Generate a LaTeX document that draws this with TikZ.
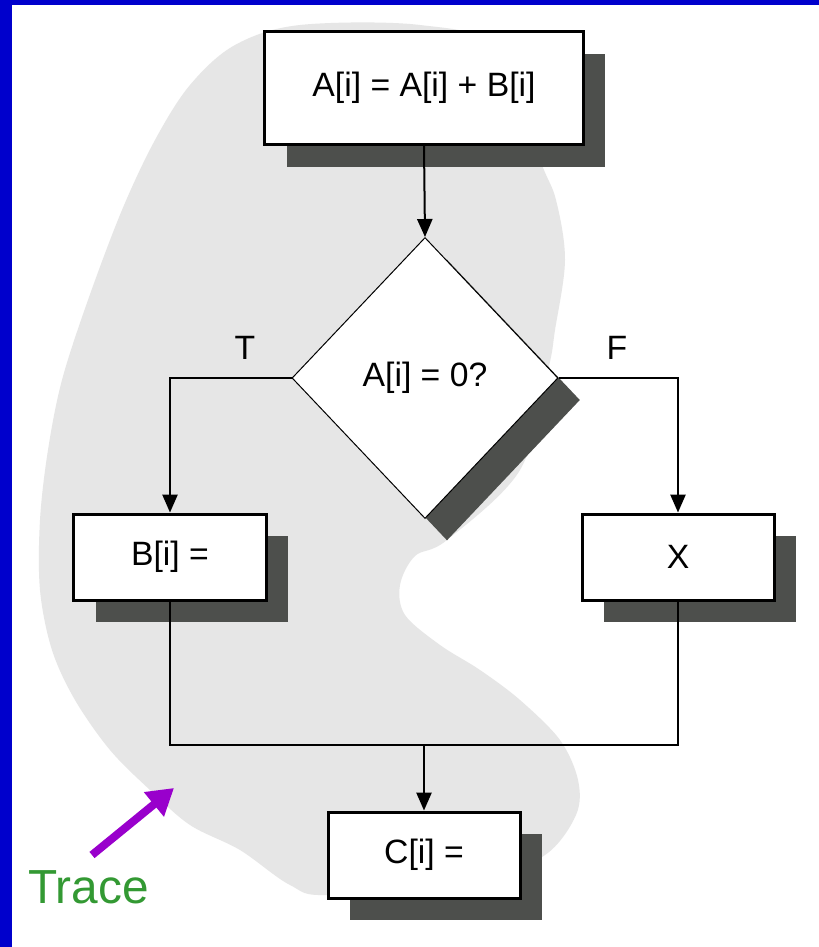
\documentclass[tikz,border=0pt]{standalone}
\usepackage{fontspec}
\setmainfont{Liberation Sans}
\usepackage{tikz}
\usetikzlibrary{positioning,arrows.meta,shapes.geometric,shadows}
\definecolor{traceblue}{HTML}{0000CC}
\definecolor{traceblob}{HTML}{E6E6E6}
\definecolor{traceshade}{HTML}{4D4F4C}
\definecolor{tracegreen}{HTML}{339933}
\definecolor{tracepurple}{HTML}{9900CC}

\begin{document}
\begin{tikzpicture}[x=0.25mm,y=-0.25mm,
  shade/.style={drop shadow={shadow xshift=5.5mm,shadow yshift=-5.5mm,fill=traceshade,opacity=1}},
  stepbox/.style={draw,line width=0.75mm,fill=white,shade,minimum width=48mm,minimum height=21.5mm,inner sep=0pt,font=\fontsize{24}{28}\selectfont},
  test/.style={diamond,draw,line width=0.25mm,fill=white,shade,minimum width=66.5mm,minimum height=70.25mm,inner sep=0pt,font=\fontsize{24}{28}\selectfont},
  flag/.style={font=\fontsize{24}{28}\selectfont},
  wire/.style={line width=0.5mm},
  arr/.style={wire,-{Triangle[length=4.5mm,width=3.8mm]}},
  pointer/.style={tracepurple,line width=2mm,-{Triangle[length=6.5mm,width=7.5mm]}}
]
\useasboundingbox (0,0) rectangle (819,947);
\fill[white] (0,0) rectangle (819,947);
\fill[traceblue] (0,0) rectangle (12,947);
\fill[traceblue] (0,0) rectangle (819,5);

% the trace region
\fill[traceblob] plot[smooth cycle,tension=0.55] coordinates {
  (300,25) (420,25) (500,50) (540,160) (556,200) (565,260) (555,330)
  (548,370) (520,470) (447,540) (415,556) (400,585) (405,615) (440,645)
  (480,670) (520,700) (560,740) (578,780) (576,815) (545,855) (480,880)
  (330,895) (290,885) (240,850) (190,825) (150,790) (110,750) (75,700)
  (52,650) (40,590) (40,520) (48,450) (62,380) (88,300) (122,210)
  (155,140) (190,85) (235,45)};

\node[stepbox,minimum width=79.5mm,minimum height=28.25mm] (sum) at (424,88) {A[i] = A[i] + B[i]};
\node[test] (iszero) at (425,378) {A[i] = 0?};
\node[stepbox] (setb) at (170,557) {B[i] =};
\node[stepbox] (setx) at (678,557) {X};
\node[stepbox] (setc) at (424,855) {C[i] =};
\coordinate (merge) at (424,745);

\node[flag] (tlabel) at (245,348) {T};
\node[flag] (flabel) at (617,348) {F};

\draw[arr] (sum.south) -- (iszero.north);
\draw[arr] (iszero.west) -| (setb.north);
\draw[arr] (iszero.east) -| (setx.north);
\draw[wire] (setb.south) |- (merge) -| (setx.south);
\draw[arr] (merge) -- (setc.north);

% label and pointer
\node[anchor=base west,text=tracegreen,font=\fontsize{34}{40}\selectfont,inner sep=0pt] (trace) at (28,903) {Trace};
\coordinate (tracetail) at (92,855);
\coordinate (tracetip) at (174,788);
\draw[pointer] (tracetail) -- (tracetip);
\end{tikzpicture}
\end{document}
